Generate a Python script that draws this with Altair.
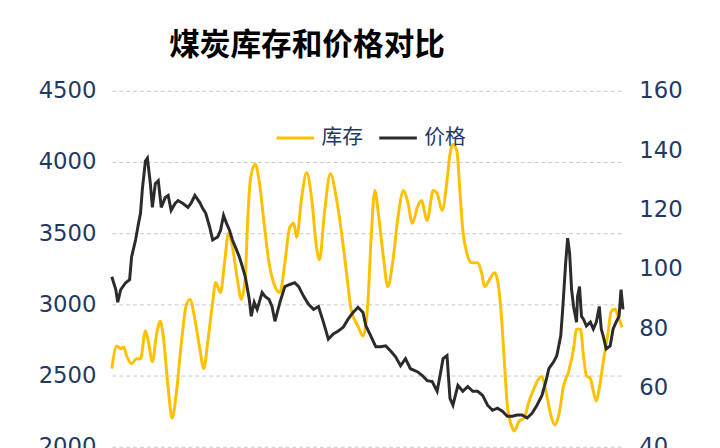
import altair as alt
import pandas as pd

# time index (approximate periods) and values
inv_t = [0, 5, 9, 12, 15, 20, 25, 29, 34, 37, 41, 45, 49, 52, 57, 61, 65, 70, 75, 79, 84, 89, 93, 97,
         102, 105, 110, 114, 118, 122, 127, 131, 135, 137, 140, 145, 149, 154, 159, 165, 170, 175, 180,
         184, 187, 192, 197, 202, 207, 210, 215, 221, 227, 232, 237, 242, 249, 254, 259, 262, 266, 270,
         275, 279, 284, 289, 295, 299, 304, 309, 313, 319, 325, 329, 334, 339, 342, 345, 349, 352, 355,
         359, 364, 370, 374, 377, 382, 387, 390, 394, 397, 400, 404, 407, 412, 417, 422, 427, 432, 435,
         439, 444, 448, 452, 457, 462, 467, 470, 474, 477, 480, 484, 487, 490, 493, 497, 502, 505, 509,
         512, 516]
inv_v = [2550, 2708, 2688, 2701, 2639, 2583, 2618, 2618, 2813, 2736, 2597, 2778, 2882, 2778, 2410, 2201,
         2361, 2708, 2986, 3035, 2896, 2688, 2549, 2736, 3014, 3153, 3083, 3292, 3500, 3403, 3174, 3035,
         3194, 3521, 3868, 3986, 3868, 3569, 3292, 3125, 3083, 3292, 3542, 3569, 3472, 3750, 3924, 3750,
         3403, 3313, 3639, 3917, 3750, 3521, 3243, 2965, 2847, 2778, 3014, 3431, 3799, 3611, 3313, 3125,
         3292, 3590, 3799, 3729, 3569, 3681, 3729, 3590, 3799, 3778, 3660, 3868, 4056, 4125, 4076, 3799,
         3521, 3361, 3292, 3292, 3222, 3125, 3174, 3222, 3174, 2917, 2597, 2292, 2153, 2111, 2181, 2201,
         2320, 2410, 2479, 2493, 2389, 2222, 2153, 2222, 2431, 2528, 2688, 2826, 2826, 2639, 2500, 2479,
         2389, 2320, 2410, 2597, 2806, 2951, 2965, 2917, 2840]

price_t = [0, 4, 6, 9, 14, 18, 20, 24, 27, 29, 31, 34, 36, 39, 41, 44, 47, 50, 54, 57, 60, 64, 67, 72,
           77, 80, 84, 89, 92, 95, 99, 102, 107, 110, 113, 116, 119, 122, 125, 129, 132, 135, 139, 141,
           144, 147, 152, 155, 159, 162, 165, 170, 175, 180, 185, 189, 194, 199, 204, 209, 214, 219, 224,
           229, 234, 239, 244, 249, 254, 257, 262, 267, 272, 277, 282, 287, 292, 297, 302, 309, 314, 319,
           324, 329, 332, 335, 339, 342, 345, 350, 355, 360, 365, 370, 375, 380, 385, 390, 395, 400, 405,
           410, 415, 420, 425, 430, 435, 439, 442, 447, 450, 454, 456, 459, 461, 463, 465, 467, 470, 471,
           473, 475, 477, 480, 484, 487, 490, 493, 495, 497, 500, 504, 507, 510, 513, 515, 517]
price_v = [97.3, 93.0, 88.7, 93.0, 95.3, 96.3, 104.0, 109.7, 115.3, 118.7, 127.3, 136.3, 137.3, 128.7,
           120.7, 128.7, 129.7, 120.7, 124.0, 124.7, 119.7, 122.0, 123.0, 122.0, 120.7, 122.0, 124.7, 122.3,
           120.3, 118.7, 114.0, 109.7, 110.7, 113.0, 118.0, 115.3, 113.0, 109.7, 107.3, 104.0, 100.7, 97.3,
           89.7, 84.0, 88.7, 86.3, 92.0, 90.7, 89.7, 87.3, 82.3, 88.7, 94.0, 94.7, 95.3, 94.0, 90.7, 88.0,
           86.3, 87.3, 82.0, 76.3, 78.0, 79.0, 80.3, 83.0, 85.3, 87.0, 85.3, 80.7, 77.3, 73.7, 73.7, 74.0,
           72.3, 70.3, 67.3, 69.7, 66.3, 65.3, 64.0, 62.3, 62.0, 58.7, 64.0, 69.7, 70.7, 56.3, 54.0, 60.7,
           58.7, 60.3, 58.7, 58.7, 57.3, 54.0, 52.3, 53.0, 52.0, 50.3, 50.3, 50.7, 50.7, 49.7, 51.3, 54.0,
           57.3, 62.0, 66.3, 68.7, 70.7, 77.3, 86.3, 102.0, 110.3, 105.3, 93.0, 87.3, 82.0, 90.7, 94.0,
           84.0, 83.0, 80.7, 82.0, 79.7, 82.0, 87.3, 79.7, 77.3, 73.0, 74.0, 79.7, 82.0, 84.0, 93.0, 86.3]

series_names = ["库存", "价格"]
series_colors = ["#FFC000", "#2B2B2B"]

inv_df = pd.DataFrame({"t": inv_t, "v": inv_v, "series": series_names[0]})
price_df = pd.DataFrame({"t": price_t, "v": price_v, "series": series_names[1]})

label_color = "#1F3864"

x_enc = alt.X("t:Q", scale=alt.Scale(domain=[0, 517], nice=False), axis=None)
color_enc = alt.Color(
    "series:N",
    scale=alt.Scale(domain=series_names, range=series_colors),
    sort=series_names,
    legend=alt.Legend(
        title=None, orient="none", legendX=165, legendY=27, direction="horizontal",
        symbolType="stroke", symbolSize=1444, symbolStrokeWidth=3,
        labelFontSize=21, labelColor=label_color, labelFont="Noto Sans CJK SC",
        columnPadding=10, labelOffset=6,
    ),
)

inv_line = alt.Chart(inv_df).mark_line(strokeWidth=3, interpolate="monotone").encode(
    x=x_enc,
    y=alt.Y("v:Q", scale=alt.Scale(domain=[2000, 4500], nice=False),
            axis=alt.Axis(title=None, values=[2000, 2500, 3000, 3500, 4000, 4500], format="d",
                          domain=False, ticks=False, labelPadding=16,
                          labelFontSize=23, labelColor=label_color, labelFont="DejaVu Sans",
                          gridDash=[4, 3], gridColor="#C8C8C8", gridWidth=1)),
    color=color_enc,
)

price_line = alt.Chart(price_df).mark_line(strokeWidth=3).encode(
    x=x_enc,
    y=alt.Y("v:Q", scale=alt.Scale(domain=[40, 160], nice=False),
            axis=alt.Axis(title=None, orient="right", values=[40, 60, 80, 100, 120, 140, 160], format="d",
                          domain=False, ticks=False, grid=False, labelPadding=16,
                          labelFontSize=23, labelColor=label_color, labelFont="DejaVu Sans")),
    color=color_enc,
)

chart = alt.layer(inv_line, price_line).resolve_scale(y="independent").properties(
    width=517, height=360,
    autosize=alt.AutoSizeParams(type="none"),
    padding={"left": 105, "top": 81, "right": 90, "bottom": 40},
    title=alt.TitleParams("煤炭库存和价格对比", anchor="start", frame="group", dx=58, offset=18,
                          fontSize=31, fontWeight="bold", font="Noto Sans CJK SC", color="#000000"),
).configure_view(stroke=None)

chart.save("out.html", embed_options={"renderer": "svg", "actions": False})
